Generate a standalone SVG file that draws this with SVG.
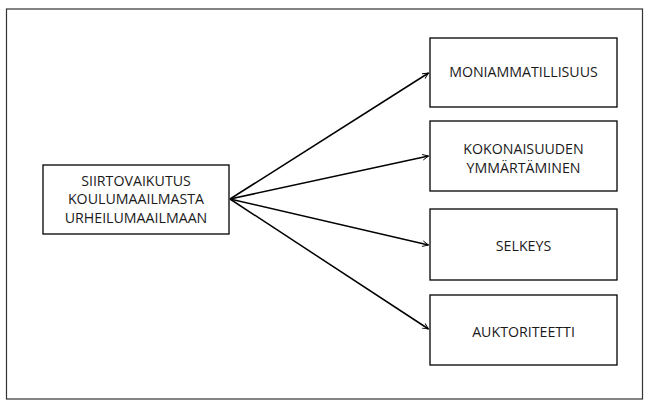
<svg xmlns="http://www.w3.org/2000/svg" width="648" height="403" viewBox="0 0 648 403">
<defs>
<style>
.box{fill:#fff;stroke:#000;stroke-width:1.3}
.t{font-family:"Open Sans","Liberation Sans",sans-serif;font-size:14.2px;fill:#1a1a1a;text-anchor:middle}
.c{stroke:#000;stroke-width:1.5;fill:none;marker-end:url(#ah)}
</style>
<marker id="ah" viewBox="0 0 10 10" refX="9.5" refY="5" markerWidth="7" markerHeight="7" markerUnits="userSpaceOnUse" orient="auto">
<path d="M1,1 L9.5,5 L1,9" fill="none" stroke="#000" stroke-width="1.3"/>
</marker>
</defs>
<rect width="648" height="403" fill="#fff"/>
<rect x="6.5" y="9" width="636" height="390" fill="none" stroke="#333" stroke-width="1.2"/>
<g id="connectors">
<line class="c" x1="230" y1="199" x2="428.5" y2="73"/>
<line class="c" x1="230" y1="199" x2="428.5" y2="156"/>
<line class="c" x1="230" y1="199" x2="428.5" y2="245"/>
<line class="c" x1="230" y1="199" x2="428.5" y2="329"/>
</g>
<g id="source">
<rect class="box" x="43" y="165" width="186" height="69"/>
<text class="t" x="136" y="185.5">SIIRTOVAIKUTUS</text>
<text class="t" x="136" y="204">KOULUMAAILMASTA</text>
<text class="t" x="136" y="222.5">URHEILUMAAILMAAN</text>
</g>
<g id="n1">
<rect class="box" x="430" y="38" width="187" height="69"/>
<text class="t" x="523.5" y="76.5">MONIAMMATILLISUUS</text>
</g>
<g id="n2">
<rect class="box" x="430" y="121" width="187" height="70"/>
<text class="t" x="523.5" y="154">KOKONAISUUDEN</text>
<text class="t" x="523.5" y="172.5">YMMÄRTÄMINEN</text>
</g>
<g id="n3">
<rect class="box" x="430" y="209" width="187" height="71"/>
<text class="t" x="523.5" y="251">SELKEYS</text>
</g>
<g id="n4">
<rect class="box" x="430" y="295" width="187" height="70"/>
<text class="t" x="523.5" y="337">AUKTORITEETTI</text>
</g>
</svg>
